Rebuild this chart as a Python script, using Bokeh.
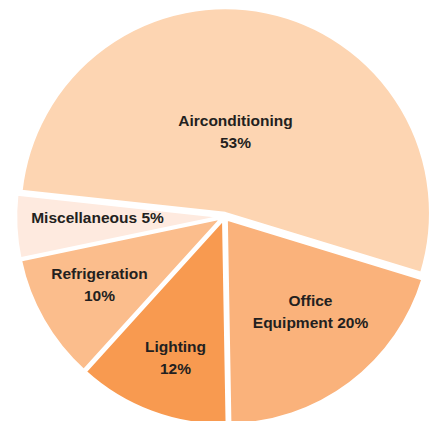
import math
from bokeh.plotting import figure
from bokeh.models import Range1d, ColumnDataSource
from bokeh.core.properties import value
from bokeh.embed import file_html
from bokeh.resources import INLINE

categories = ["Airconditioning", "Miscellaneous", "Refrigeration", "Lighting", "Office Equipment"]
shares = [53, 5, 10, 12, 20]
labels = ["Airconditioning\n53%", "Miscellaneous 5%", "Refrigeration\n10%", "Lighting\n12%", "Office\nEquipment 20%"]
colors = ["#FDD5B2", "#FEEADF", "#FBBD8C", "#F89A50", "#FAB27B"]

# layout (page pixels -> data with y flipped)
W, H = 435, 421
cx, cy = 224, H - 216
R = 205
start_deg = -17.0
explode = 3.5
label_off = [(11, 85), (-127, -1), (-125, -68), (-49, -141), (86, -95)]

total = float(sum(shares))
starts, ends, xs, ys, lx, ly = [], [], [], [], [], []
a = math.radians(start_deg)
for s, (dx, dy) in zip(shares, label_off):
    span = 2 * math.pi * s / total
    mid = a + span / 2
    starts.append(a)
    ends.append(a + span)
    xs.append(cx + explode * math.cos(mid))
    ys.append(cy + explode * math.sin(mid))
    lx.append(cx + dx)
    ly.append(cy + dy)
    a += span

src = ColumnDataSource(dict(x=xs, y=ys, start=starts, end=ends, color=colors, cat=categories))
lsrc = ColumnDataSource(dict(x=lx, y=ly, text=labels))

p = figure(width=W, height=H, output_backend="svg", toolbar_location=None,
           x_range=Range1d(0, W), y_range=Range1d(0, H),
           x_axis_location=None, y_axis_location=None, min_border=0)
p.grid.visible = False
p.outline_line_color = None
p.background_fill_color = "white"

p.wedge(x="x", y="y", radius=R, start_angle="start", end_angle="end",
        fill_color="color", line_color="white", line_width=2.5, source=src)

p.text(x="x", y="y", text="text", source=lsrc, text_align="center", text_baseline="middle",
       text_font=value("Liberation Sans"), text_font_style="bold", text_font_size="15.5px",
       text_color="#231F20", text_line_height=1.35)

open("out.html", "w").write(file_html(p, INLINE))
